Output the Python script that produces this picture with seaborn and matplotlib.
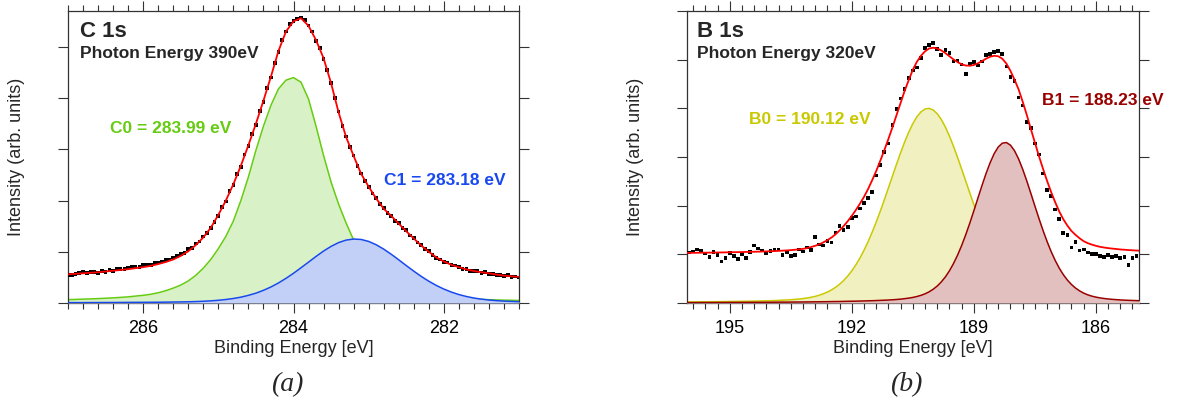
import numpy as np
import pandas as pd
import seaborn as sns
import matplotlib
matplotlib.use("Agg")
import matplotlib.pyplot as plt
from matplotlib.ticker import MultipleLocator

# -------------------------------
# C 1s (photon energy 390 eV)
# -------------------------------
c_energy = np.round(np.linspace(287.0, 281.0, 61), 2)
c0_peak = [0.066, 0.070, 0.075, 0.080, 0.086, 0.093, 0.100, 0.110, 0.120, 0.135,
           0.150, 0.170, 0.200, 0.240, 0.290, 0.350, 0.430, 0.540, 0.680, 0.850,
           1.060, 1.300, 1.600, 2.000, 2.460, 2.980, 3.450, 3.860, 4.180, 4.350,
           4.400, 4.310, 3.980, 3.450, 2.880, 2.360, 1.930, 1.560, 1.230, 0.930,
           0.690, 0.520, 0.390, 0.310, 0.245, 0.200, 0.170, 0.150, 0.132, 0.117,
           0.107, 0.097, 0.089, 0.082, 0.076, 0.070, 0.065, 0.060, 0.056, 0.053,
           0.049]
c1_peak = [0.008, 0.008, 0.008, 0.009, 0.009, 0.010, 0.010, 0.011, 0.012, 0.013,
           0.013, 0.014, 0.015, 0.017, 0.019, 0.021, 0.024, 0.028, 0.034, 0.042,
           0.053, 0.068, 0.088, 0.114, 0.149, 0.192, 0.247, 0.313, 0.391, 0.481,
           0.580, 0.688, 0.798, 0.909, 1.014, 1.105, 1.179, 1.228, 1.249, 1.240,
           1.202, 1.137, 1.052, 0.952, 0.843, 0.731, 0.622, 0.519, 0.425, 0.343,
           0.272, 0.213, 0.165, 0.127, 0.097, 0.075, 0.058, 0.046, 0.037, 0.031,
           0.026]
c_fit = [0.560, 0.570, 0.580, 0.590, 0.600, 0.615, 0.630, 0.645, 0.660, 0.680,
         0.700, 0.725, 0.760, 0.800, 0.850, 0.920, 1.010, 1.130, 1.280, 1.470,
         1.720, 2.000, 2.320, 2.680, 3.080, 3.500, 3.950, 4.420, 4.920, 5.300,
         5.500, 5.560, 5.410, 5.130, 4.780, 4.290, 3.720, 3.240, 2.870, 2.520,
         2.270, 2.040, 1.840, 1.700, 1.550, 1.400, 1.260, 1.120, 1.000, 0.890,
         0.810, 0.745, 0.700, 0.655, 0.625, 0.600, 0.580, 0.555, 0.535, 0.520,
         0.510]

c_data_energy = np.round(np.linspace(287.0, 281.0, 121), 2)
c_data = [0.55, 0.54, 0.57, 0.58, 0.60, 0.58, 0.61, 0.60, 0.59, 0.62,
          0.61, 0.64, 0.63, 0.66, 0.67, 0.66, 0.69, 0.70, 0.71, 0.70,
          0.74, 0.75, 0.74, 0.78, 0.79, 0.81, 0.84, 0.85, 0.89, 0.92,
          0.95, 0.98, 1.05, 1.08, 1.16, 1.20, 1.30, 1.36, 1.47, 1.58,
          1.70, 1.88, 1.98, 2.18, 2.30, 2.52, 2.66, 2.90, 3.06, 3.30,
          3.48, 3.75, 3.93, 4.20, 4.40, 4.68, 4.90, 5.14, 5.30, 5.44,
          5.50, 5.55, 5.57, 5.52, 5.42, 5.30, 5.12, 4.98, 4.76, 4.55,
          4.30, 4.00, 3.74, 3.46, 3.25, 3.04, 2.88, 2.68, 2.53, 2.38,
          2.27, 2.14, 2.05, 1.93, 1.85, 1.76, 1.70, 1.60, 1.56, 1.46,
          1.42, 1.32, 1.27, 1.18, 1.13, 1.05, 1.01, 0.94, 0.88, 0.85,
          0.80, 0.79, 0.74, 0.73, 0.70, 0.67, 0.66, 0.63, 0.62, 0.62,
          0.59, 0.60, 0.57, 0.56, 0.55, 0.55, 0.53, 0.54, 0.51, 0.52,
          0.50]

# -------------------------------
# B 1s (photon energy 320 eV)
# -------------------------------
b_energy = np.round(np.linspace(196.1, 184.9, 113), 2)
b0_peak = [0.021, 0.021, 0.022, 0.023, 0.024, 0.024, 0.025, 0.026, 0.027, 0.028,
           0.029, 0.031, 0.032, 0.033, 0.034, 0.036, 0.037, 0.039, 0.041, 0.043,
           0.045, 0.048, 0.050, 0.054, 0.058, 0.062, 0.067, 0.074, 0.081, 0.091,
           0.103, 0.118, 0.136, 0.160, 0.189, 0.224, 0.268, 0.321, 0.385, 0.462,
           0.553, 0.659, 0.782, 0.922, 1.081, 1.257, 1.451, 1.660, 1.884, 2.119,
           2.362, 2.607, 2.850, 3.086, 3.308, 3.509, 3.683, 3.824, 3.926, 3.985,
           4.000, 3.967, 3.890, 3.772, 3.617, 3.431, 3.221, 2.993, 2.754, 2.509,
           2.264, 2.024, 1.793, 1.575, 1.371, 1.184, 1.015, 0.864, 0.730, 0.614,
           0.515, 0.430, 0.358, 0.298, 0.249, 0.209, 0.176, 0.150, 0.129, 0.111,
           0.098, 0.087, 0.078, 0.071, 0.065, 0.060, 0.056, 0.052, 0.049, 0.046,
           0.044, 0.042, 0.040, 0.038, 0.037, 0.035, 0.034, 0.033, 0.031, 0.030,
           0.029, 0.028, 0.027]
b1_peak = [0.009, 0.009, 0.009, 0.009, 0.010, 0.010, 0.010, 0.010, 0.011, 0.011,
           0.011, 0.012, 0.012, 0.012, 0.013, 0.013, 0.014, 0.014, 0.014, 0.015,
           0.015, 0.016, 0.017, 0.017, 0.018, 0.018, 0.019, 0.020, 0.021, 0.021,
           0.022, 0.023, 0.024, 0.025, 0.026, 0.027, 0.029, 0.030, 0.031, 0.033,
           0.035, 0.036, 0.038, 0.040, 0.042, 0.045, 0.047, 0.050, 0.054, 0.057,
           0.061, 0.066, 0.072, 0.079, 0.089, 0.100, 0.114, 0.133, 0.157, 0.188,
           0.229, 0.282, 0.348, 0.432, 0.535, 0.660, 0.809, 0.982, 1.179, 1.399,
           1.638, 1.892, 2.153, 2.412, 2.659, 2.881, 3.068, 3.205, 3.284, 3.297,
           3.244, 3.129, 2.961, 2.751, 2.513, 2.257, 1.996, 1.739, 1.493, 1.265,
           1.058, 0.875, 0.716, 0.582, 0.471, 0.380, 0.307, 0.249, 0.203, 0.168,
           0.141, 0.121, 0.105, 0.093, 0.083, 0.075, 0.069, 0.063, 0.059, 0.055,
           0.052, 0.049, 0.046]
b_fit = [1.030, 1.030, 1.031, 1.032, 1.034, 1.034, 1.035, 1.036, 1.038, 1.039,
         1.040, 1.043, 1.044, 1.045, 1.047, 1.049, 1.051, 1.053, 1.055, 1.058,
         1.060, 1.064, 1.067, 1.071, 1.076, 1.080, 1.086, 1.094, 1.102, 1.112,
         1.128, 1.150, 1.175, 1.205, 1.245, 1.290, 1.345, 1.410, 1.490, 1.580,
         1.680, 1.790, 1.910, 2.040, 2.180, 2.340, 2.520, 2.710, 2.920, 3.140,
         3.370, 3.610, 3.860, 4.110, 4.360, 4.580, 4.790, 4.955, 5.080, 5.170,
         5.230, 5.245, 5.230, 5.190, 5.135, 5.070, 5.005, 4.950, 4.905, 4.880,
         4.875, 4.890, 4.925, 4.970, 5.020, 5.060, 5.080, 5.070, 5.020, 4.920,
         4.770, 4.590, 4.390, 4.140, 3.870, 3.580, 3.300, 3.020, 2.760, 2.510,
         2.280, 2.070, 1.880, 1.720, 1.590, 1.480, 1.400, 1.330, 1.270, 1.230,
         1.200, 1.175, 1.155, 1.140, 1.128, 1.118, 1.110, 1.100, 1.094, 1.088,
         1.083, 1.078, 1.074]

b_data_energy = np.round(np.linspace(196.0, 185.0, 111), 2)
b_data = [1.04, 1.06, 1.10, 1.07, 1.02, 0.94, 1.05, 0.98, 0.85, 0.93,
          1.03, 0.96, 0.90, 1.00, 0.92, 1.05, 1.18, 1.12, 1.08, 1.02,
          1.07, 1.10, 1.10, 0.98, 1.05, 0.96, 0.99, 1.10, 1.06, 1.14,
          1.09, 1.36, 1.20, 1.18, 1.28, 1.24, 1.45, 1.58, 1.50, 1.56,
          1.74, 1.78, 1.94, 2.05, 2.16, 2.28, 2.62, 2.84, 3.10, 3.28,
          3.66, 3.98, 4.20, 4.40, 4.62, 4.78, 4.84, 5.04, 5.24, 5.30,
          5.34, 5.22, 5.10, 5.20, 5.14, 4.96, 4.98, 4.90, 4.70, 4.92,
          4.95, 4.88, 4.96, 5.10, 5.12, 5.16, 5.18, 5.12, 4.86, 4.64,
          4.56, 4.22, 4.06, 3.72, 3.60, 3.28, 3.05, 2.66, 2.32, 2.20,
          1.92, 1.72, 1.44, 1.40, 1.14, 1.26, 1.08, 1.10, 1.04, 1.00,
          1.01, 0.96, 0.95, 0.98, 0.94, 0.96, 0.92, 0.95, 0.78, 0.93,
          0.97]

for a, b in [(c_energy, c0_peak), (c_energy, c1_peak), (c_energy, c_fit),
             (c_data_energy, c_data), (b_energy, b0_peak), (b_energy, b1_peak),
             (b_energy, b_fit), (b_data_energy, b_data)]:
    assert len(a) == len(b), (len(a), len(b))

# -------------------------------
# Estilo
# -------------------------------
sns.set_style("ticks")
plt.rcParams["font.family"] = ["Liberation Sans", "DejaVu Sans"]
plt.rcParams["axes.edgecolor"] = "#333333"
plt.rcParams["xtick.color"] = "#333333"
plt.rcParams["ytick.color"] = "#333333"
plt.rcParams["xtick.labelcolor"] = "black"

fig = plt.figure(figsize=(11.82, 4.08), dpi=100)
ax_c = fig.add_axes([68 / 1182, 105 / 408, 451 / 1182, 292 / 408])
ax_b = fig.add_axes([687 / 1182, 105 / 408, 452 / 1182, 292 / 408])


def draw_panel(ax, energy, p0, p1, fit, d_energy, data, col0, fill0, col1, fill1):
    ax.fill_between(energy, 0, p0, color=fill0, lw=0, zorder=1)
    sns.lineplot(x=energy, y=p0, color=col0, lw=1.1, ax=ax, zorder=2)
    ax.fill_between(energy, 0, p1, color=fill1, lw=0, zorder=3)
    sns.lineplot(x=energy, y=p1, color=col1, lw=1.1, ax=ax, zorder=4)
    sns.scatterplot(x=d_energy, y=data, marker="s", s=7, color="black",
                    edgecolor="none", ax=ax, zorder=5)
    sns.lineplot(x=energy, y=fit, color="#ff0000", lw=1.3, ax=ax, zorder=6)

    ax.tick_params(which="both", direction="out", top=True, right=True,
                   labelleft=False, width=0.8)
    ax.tick_params(which="major", length=7, pad=5.5, labelsize=13)
    ax.tick_params(which="minor", length=4)
    for sp in ax.spines.values():
        sp.set_visible(True)
        sp.set_linewidth(0.9)
    ax.set_xlabel("Binding Energy [eV]", fontsize=13, labelpad=2)
    ax.set_ylabel("Intensity (arb. units)", fontsize=13, labelpad=24)


green, green_fill = "#66cc11", "#d9f1c6"
blue, blue_fill = "#1848f0", "#c2d0f8"
yellow, yellow_fill = "#c9c900", "#f0f0c0"
dred, dred_fill = "#990000", "#e3c0c0"

draw_panel(ax_c, c_energy, c0_peak, c1_peak, c_fit, c_data_energy, c_data,
           green, green_fill, blue, blue_fill)
ax_c.set_xlim(287.0, 281.0)
ax_c.set_ylim(0, 5.7)
ax_c.set_yticks(range(6))
ax_c.xaxis.set_major_locator(MultipleLocator(2))
ax_c.xaxis.set_minor_locator(MultipleLocator(0.2))

draw_panel(ax_b, b_energy, b0_peak, b1_peak, b_fit, b_data_energy, b_data,
           yellow, yellow_fill, dred, dred_fill)
ax_b.set_xlim(196.05, 184.94)
ax_b.set_ylim(0, 6)
ax_b.set_yticks(range(7))
ax_b.xaxis.set_major_locator(MultipleLocator(3))
ax_b.xaxis.set_minor_locator(MultipleLocator(0.3))

# textos
ax_c.text(0.027, 0.911, "C 1s", transform=ax_c.transAxes, fontsize=16,
          fontweight="bold", va="baseline")
ax_c.text(0.027, 0.839, "Photon Energy 390eV", transform=ax_c.transAxes,
          fontsize=12.5, fontweight="bold", va="baseline")
ax_c.text(0.093, 0.582, "C0 = 283.99 eV", transform=ax_c.transAxes,
          fontsize=12.5, fontweight="bold", color=green, va="baseline")
ax_c.text(0.700, 0.404, "C1 = 283.18 eV", transform=ax_c.transAxes,
          fontsize=12.5, fontweight="bold", color=blue, va="baseline")

ax_b.text(0.022, 0.911, "B 1s", transform=ax_b.transAxes, fontsize=16,
          fontweight="bold", va="baseline")
ax_b.text(0.022, 0.839, "Photon Energy 320eV", transform=ax_b.transAxes,
          fontsize=12.5, fontweight="bold", va="baseline")
ax_b.text(0.137, 0.613, "B0 = 190.12 eV", transform=ax_b.transAxes,
          fontsize=12.5, fontweight="bold", color=yellow, va="baseline")
ax_b.text(0.785, 0.678, "B1 = 188.23 eV", transform=ax_b.transAxes,
          fontsize=12.5, fontweight="bold", color=dred, va="baseline",
          clip_on=False, zorder=10)

fig.text(287 / 1182, 1 - 385 / 408, "(a)", fontsize=20, style="italic",
         family=["Liberation Serif", "DejaVu Serif"], ha="center", va="center")
fig.text(906 / 1182, 1 - 385 / 408, "(b)", fontsize=20, style="italic",
         family=["Liberation Serif", "DejaVu Serif"], ha="center", va="center")

fig.savefig("out.png", dpi=100)
